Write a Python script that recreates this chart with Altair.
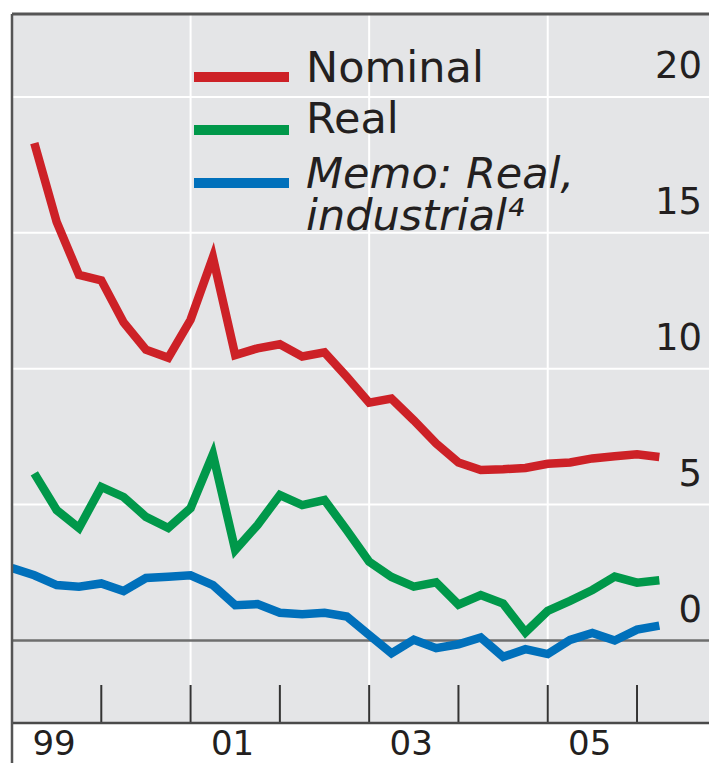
import altair as alt
import pandas as pd

# ---- data ----
series_names = ["Nominal", "Real", "Memo: Real, industrial⁴"]
series_colors = ["#cd2127", "#00984a", "#0070bb"]

time_all = [1999.0, 1999.25, 1999.5, 1999.75, 2000.0, 2000.25, 2000.5, 2000.75,
            2001.0, 2001.25, 2001.5, 2001.75, 2002.0, 2002.25, 2002.5, 2002.75,
            2003.0, 2003.25, 2003.5, 2003.75, 2004.0, 2004.25, 2004.5, 2004.75,
            2005.0, 2005.25, 2005.5, 2005.75, 2006.0, 2006.25]
time_main = time_all[1:]

nominal = [18.3, 15.4, 13.45, 13.25, 11.7, 10.7, 10.4, 11.8, 14.1, 10.5,
           10.75, 10.9, 10.45, 10.6, 9.7, 8.75, 8.9, 8.1, 7.25, 6.55,
           6.27, 6.3, 6.35, 6.5, 6.55, 6.7, 6.78, 6.85, 6.75]
real = [6.15, 4.8, 4.14, 5.65, 5.28, 4.55, 4.14, 4.87, 6.85, 3.33,
        4.25, 5.35, 4.98, 5.17, 4.06, 2.9, 2.34, 1.98, 2.14, 1.32,
        1.67, 1.36, 0.3, 1.09, 1.46, 1.86, 2.35, 2.13, 2.22]
memo = [2.67, 2.4, 2.04, 1.98, 2.1, 1.82, 2.3, 2.35, 2.4, 2.04,
        1.3, 1.34, 1.02, 0.97, 1.02, 0.88, 0.2, -0.47, 0.03, -0.28,
        -0.14, 0.11, -0.6, -0.32, -0.5, 0.02, 0.28, 0.0, 0.4, 0.55]

y_tick_values = [0, 5, 10, 15, 20]
y_grid_values = [5, 10, 15, 20]
x_grid_years = [2001, 2003, 2005]
x_tick_years = [2000, 2001, 2002, 2003, 2004, 2005, 2006]
x_label_years = [1999, 2001, 2003, 2005]
x_label_texts = ["99", "01", "03", "05"]

# ---- tables ----
rows = []
for t, v in zip(time_main, nominal):
    rows.append({"t": t, "value": v, "series": series_names[0]})
for t, v in zip(time_main, real):
    rows.append({"t": t, "value": v, "series": series_names[1]})
for t, v in zip(time_all, memo):
    rows.append({"t": t, "value": v, "series": series_names[2]})
lines_df = pd.DataFrame(rows)

W, H = 697, 709
FONT = "DejaVu Sans"
TXT = "#231f20"
xs = alt.Scale(domain=[1999, 1999 + W / 89.29], nice=False, zero=False)
ys = alt.Scale(domain=[-3.035, 23.05], nice=False, zero=False)
one = pd.DataFrame({"a": [0]})

grid_y = alt.Chart(pd.DataFrame({"v": y_grid_values})).mark_rule(
    color="white", strokeWidth=2).encode(y=alt.Y("v:Q", scale=ys, axis=None))
grid_x = alt.Chart(pd.DataFrame({"t": x_grid_years})).mark_rule(
    color="white", strokeWidth=2).encode(x=alt.X("t:Q", scale=xs, axis=None))
zero_line = alt.Chart(pd.DataFrame({"v": [0]})).mark_rule(
    color="#6e6e6e", strokeWidth=2.5).encode(y=alt.Y("v:Q", scale=ys, axis=None))
ticks = alt.Chart(pd.DataFrame({"t": x_tick_years})).mark_rule(
    color="#333333", strokeWidth=2).encode(
    x=alt.X("t:Q", scale=xs, axis=None), y=alt.value(H - 38), y2=alt.value(H))

lines = alt.Chart(lines_df).mark_line(strokeWidth=8.5, clip=True).encode(
    x=alt.X("t:Q", scale=xs, axis=None),
    y=alt.Y("value:Q", scale=ys, axis=None),
    color=alt.Color("series:N", scale=alt.Scale(domain=series_names, range=series_colors), legend=None),
)

bottom_line = alt.Chart(one).mark_rule(color="#4a4a4a", strokeWidth=2.5).encode(
    x=alt.value(0), x2=alt.value(W), y=alt.value(H))
top_line = alt.Chart(one).mark_rule(color="#555555", strokeWidth=3).encode(
    x=alt.value(0), x2=alt.value(W), y=alt.value(0))
left_line = alt.Chart(one).mark_rule(color="#555555", strokeWidth=2.5).encode(
    x=alt.value(0), y=alt.value(0), y2=alt.value(H + 48))

# legend (drawn by hand)
legend_line_y = [63, 116, 169]
legend_text_y = [68, 119, 174]
legend_layers = []
for k, (name, col) in enumerate(zip(series_names, series_colors)):
    legend_layers.append(
        alt.Chart(one).mark_rule(color=col, strokeWidth=10, strokeCap="butt").encode(
            x=alt.value(182), x2=alt.value(277), y=alt.value(legend_line_y[k])))
    if k < 2:
        txt = alt.value(name)
        style = "normal"
    else:
        txt = alt.value(["Memo: Real,", "industrial⁴"])
        style = "italic"
    legend_layers.append(
        alt.Chart(one).mark_text(align="left", baseline="alphabetic", font=FONT,
                                 fontSize=43, fontStyle=style, color=TXT, lineHeight=42).encode(
            x=alt.value(294), y=alt.value(legend_text_y[k]), text=txt))

y_labels = alt.Chart(pd.DataFrame({"v": y_tick_values})).mark_text(
    align="right", baseline="alphabetic", font=FONT, fontSize=37, color=TXT, dy=-19).encode(
    x=alt.value(690), y=alt.Y("v:Q", scale=ys, axis=None), text=alt.Text("v:Q"))

x_labels = alt.Chart(pd.DataFrame({"t": x_label_years, "lab": x_label_texts})).mark_text(
    align="center", baseline="alphabetic", font=FONT, fontSize=34, color=TXT, dx=42).encode(
    x=alt.X("t:Q", scale=xs, axis=None), y=alt.value(H + 32), text="lab:N")

chart = alt.layer(
    grid_y, grid_x, zero_line, ticks, lines, bottom_line, top_line, left_line,
    *legend_layers, y_labels, x_labels
).properties(
    width=W, height=H,
    padding={"left": 4, "top": 6, "right": 0, "bottom": 40},
    autosize=alt.AutoSizeParams(type="none"),
).configure_view(fill="#e4e5e7", strokeWidth=0)

chart.save("out.html", embed_options={"renderer": "svg", "actions": False})
